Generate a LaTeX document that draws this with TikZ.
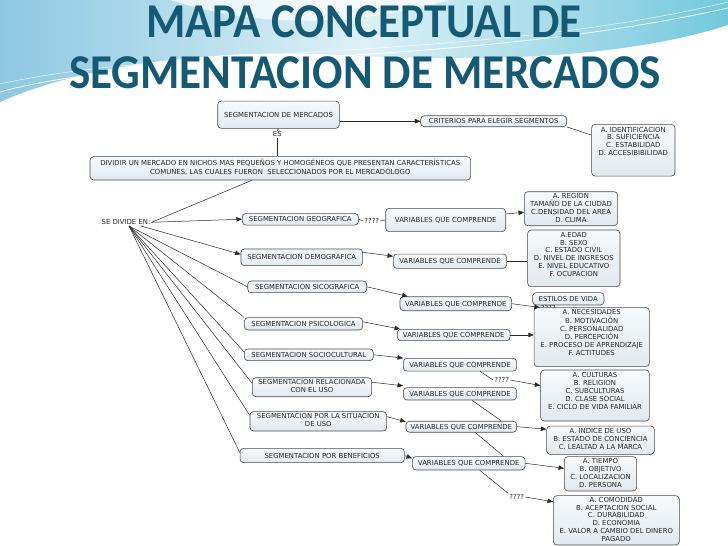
\documentclass[tikz,border=0pt]{standalone}
\usepackage{fontspec}
\setmainfont{DejaVu Sans}
\newfontfamily\titlefont{Carlito}
\usetikzlibrary{arrows.meta,calc}
\definecolor{titleblue}{RGB}{20,90,116}
\definecolor{boxline}{RGB}{75,75,75}
\definecolor{boxtop}{RGB}{247,250,252}
\definecolor{boxbot}{RGB}{226,233,238}
\definecolor{ink}{RGB}{40,40,40}
\definecolor{waveA}{RGB}{140,200,226}
\definecolor{waveB}{RGB}{222,241,247}
\definecolor{waveC}{RGB}{115,200,220}
\newcommand{\mlines}[1]{\begin{tabular}{@{}c@{}}#1\end{tabular}}
\newcommand{\padup}[2]{\raisebox{0pt}[\height][\dimexpr\depth+#1\relax]{#2}}
\begin{document}
\begin{tikzpicture}[x=1pt,y=-1pt,
  font=\fontsize{6.9}{7.8}\selectfont,
  cbox/.style={draw=boxline, line width=0.6pt, rounded corners=3.5pt,
     top color=boxtop, bottom color=boxbot, inner sep=0pt, text=ink},
  cboxs/.style={cbox, text height=5pt, text depth=0pt},
  lp/.style={inner sep=1pt, text=ink, text height=5pt, text depth=0pt},
  con/.style={draw=ink, line width=0.5pt},
  arr/.style={con, -{Triangle[length=5.5pt,width=4.5pt]}},
  ttl/.style={font=\titlefont\bfseries\fontsize{45}{50}\selectfont, text=titleblue, anchor=base, inner sep=0pt}]
\useasboundingbox (0,0) rectangle (728,546);
\fill[white] (0,0) rectangle (728,546);
% background waves
\shade[left color=waveA, right color=waveC, middle color=waveB]
  (0,0) -- (728,0) -- (728,25) .. controls (620,60) and (470,62) .. (340,55)
  .. controls (210,48) and (80,66) .. (0,102) -- cycle;
\fill[white, opacity=0.7] (170,0) .. controls (250,25) and (340,30) .. (450,0) -- cycle;
\draw[white, line width=0.8pt, opacity=0.9] (0,92) .. controls (150,50) and (450,70) .. (728,8);
\draw[white, line width=0.5pt, opacity=0.8] (0,84) .. controls (180,44) and (480,62) .. (728,2);
% title
\node[ttl] (t1) at (364,37.5) {\scalebox{1}[1.08]{MAPA CONCEPTUAL DE}};
\node[ttl] (t2) at (365,88) {\scalebox{1}[1.08]{SEGMENTACION DE MERCADOS}};
% concepts
\node[cboxs, minimum width=121.6, minimum height=27.3] (segm) at (278.5,114.7) {SEGMENTACION DE MERCADOS};
\node[lp] (es) at (277.3,134.3) {ES};
\node[cbox, minimum width=380.7, minimum height=23.3] (big) at (280.3,168.3)
  {\mlines{DIVIDIR UN MERCADO EN NICHOS MAS PEQUEÑOS Y HOMOGÉNEOS QUE PRESENTAN CARACTERÍSTICAS\\COMUNES, LAS CUALES FUERON\ \ SELECCIONADOS POR EL MERCADÓLOGO}};
\node[cboxs, minimum width=146, minimum height=11] (crit) at (493.7,121.2) {CRITERIOS PARA ELEGIR SEGMENTOS};
\node[cbox, minimum width=83.3, minimum height=51.7] (ident) at (633.3,150.2)
  {\padup{16pt}{\mlines{A. IDENTIFICACION\\B. SUFICIENCIA\\C. ESTABILIDAD\\D. ACCESIBIBILIDAD}}};
\node[lp] (sed) at (126,222.3) {SE DIVIDE EN:};
\node[cboxs, minimum width=116, minimum height=11.7] (geo) at (300.3,219.2) {SEGMENTACION GEOGRAFICA};
\node[lp] (q1) at (371.8,221) {????};
\node[cboxs, minimum width=120, minimum height=23.3] (vgeo) at (445.7,220) {VARIABLES QUE COMPRENDE};
\node[cbox, minimum width=93.3, minimum height=34] (reg) at (571,208.7)
  {\mlines{A. REGION\\TAMAÑO DE LA CIUDAD\\C.DENSIDAD DEL AREA\\D. CLIMA}};
\node[cboxs, minimum width=121.7, minimum height=16.7] (demo) at (301.8,257.3) {SEGMENTACION DEMOGRAFICA};
\node[cboxs, minimum width=113.3, minimum height=14.3] (vdemo) at (450,261.2) {VARIABLES QUE COMPRENDE};
\node[cbox, minimum width=92.3, minimum height=56.7] (edad) at (573.8,258.3)
  {\padup{6pt}{\mlines{A.EDAD\\B. SEXO\\C. ESTADO CIVIL\\D. NIVEL DE INGRESOS\\E. NIVEL EDUCATIVO\\F. OCUPACION}}};
\node[cboxs, minimum width=119, minimum height=11.7] (sico) at (307.2,286.8) {SEGMENTACION SICOGRAFICA};
\node[cboxs, minimum width=111.7, minimum height=14] (vsico) at (455.8,303.7) {VARIABLES QUE COMPRENDE};
\node[cboxs, minimum width=71.3, minimum height=12.3] (estilos) at (568.3,298.8) {ESTILOS DE VIDA};
\node[lp] (q2) at (548.3,307.5) {????};
\node[cbox, minimum width=115.3, minimum height=59.3] (nec) at (591.7,337)
  {\padup{7pt}{\mlines{A. NECESIDADES\\B. MOTIVACIÓN\\C. PERSONALIDAD\\D. PERCEPCIÓN\\E. PROCESO DE APRENDIZAJE\\F. ACTITUDES}}};
\node[cboxs, minimum width=118.3, minimum height=12.3] (psico) at (303.5,323.8) {SEGMENTACION PSICOLOGICA};
\node[cboxs, minimum width=112.7, minimum height=11.3] (vpsico) at (453.7,335) {VARIABLES QUE COMPRENDE};
\node[cboxs, minimum width=129, minimum height=11.7] (socio) at (308.8,354.8) {SEGMENTACION SOCIOCULTURAL};
\node[cboxs, minimum width=113.3, minimum height=12.7] (vsocio) at (460,364.7) {VARIABLES QUE COMPRENDE};
\node[lp] (q3) at (501.7,380) {????};
\node[cbox, minimum width=108.7, minimum height=51] (cult) at (595,395.5)
  {\padup{7pt}{\mlines{A. CULTURAS\\B. RELIGION\\C. SUBCULTURAS\\D. CLASE SOCIAL\\E. CICLO DE VIDA FAMILIAR}}};
\node[cbox, minimum width=119.3, minimum height=19] (rel) at (312,387.2)
  {\mlines{SEGMENTACION RELACIONADA\\CON EL USO}};
\node[cboxs, minimum width=113.3, minimum height=12.3] (vrel) at (460,393.8) {VARIABLES QUE COMPRENDE};
\node[cbox, minimum width=136.7, minimum height=19.3] (sit) at (318.3,421.3)
  {\mlines{SEGMENTACION POR LA SITUACION\\DE USO}};
\node[cboxs, minimum width=110.7, minimum height=11] (vsit) at (461.3,426.7) {VARIABLES QUE COMPRENDE};
\node[cbox, minimum width=107.7, minimum height=28.3] (ind) at (600.5,440.2)
  {\mlines{A. INDICE DE USO\\B. ESTADO DE CONCIENCIA\\C. LEALTAD A LA MARCA}};
\node[cboxs, minimum width=164.3, minimum height=14.3] (ben) at (322.2,455.5) {SEGMENTACION POR BENEFICIOS};
\node[cboxs, minimum width=112.7, minimum height=13.3] (vben) at (468.7,463.3) {VARIABLES QUE COMPRENDE};
\node[cbox, minimum width=72.3, minimum height=34.3] (tiempo) at (600.5,473.8)
  {\mlines{A. TIEMPO\\B. OBJETIVO\\C. LOCALIZACION\\D. PERSONA}};
\node[lp] (q4) at (516.7,497) {????};
\node[cbox, minimum width=126, minimum height=49.3] (comod) at (616.3,520.3)
  {\mlines{A. COMODIDAD\\B. ACEPTACION SOCIAL\\C. DURABILIDAD\\D. ECONOMIA\\E. VALOR A CAMBIO DEL DINERO\\PAGADO}};
% connectors
\draw[con] (segm.south) -- (es.north);
\draw[con] (es.south) -- (es.south |- big.north);
\draw[arr] (segm.east |- crit.west) -- (crit.west);
\draw[con] (crit.south east) -- ([yshift=-11pt]ident.north west);
\draw[con] (sed.east) -- ([xshift=-28.3pt]big.south);
\draw[arr] (sed.east) -- (geo.west);
\draw[arr] ([xshift=15pt]sed.south) -- ([yshift=3pt]demo.west);
\draw[con] ([xshift=3pt]sed.south) -- (sico.west);
\draw[con] ([xshift=3pt]sed.south) -- (psico.north west);
\draw[con] ([xshift=3pt]sed.south) -- ([yshift=3pt]socio.west);
\draw[con] ([xshift=3pt]sed.south) -- ([yshift=4pt]rel.west);
\draw[con] ([xshift=3pt]sed.south) -- ([yshift=6pt]sit.west);
\draw[con] ([xshift=3pt]sed.south) -- ([yshift=3pt]ben.west);
\draw[con] (geo.east) -- (q1.west);
\draw[con] (q1.east) -- (vgeo.west);
\draw[arr] ([yshift=6pt]vgeo.east) -- ([yshift=-3.6pt]reg.west);
\draw[arr] ([yshift=5pt]demo.east) -- ([yshift=5pt]vdemo.west);
\draw[con] (vdemo.east) -- (vdemo.east -| edad.west);
\draw[arr] (sico.east) -- ([xshift=8pt]vsico.north west);
\draw[arr] (vsico.east) -- (q2.west);
\draw[arr] ([yshift=2pt]psico.east) -- ([xshift=3pt]vpsico.north west);
\draw[arr] (vpsico.east) -- (vpsico.east -| nec.west);
\draw[arr] (socio.east) -- (vsocio.north west);
\draw[con] ([xshift=20pt]vsocio.south) -- (q3.west);
\draw[arr] (q3.east) -- ([yshift=10pt]cult.west);
\draw[arr] ([yshift=5pt]rel.east) -- ([yshift=8pt]vrel.west);
\draw[con] ([xshift=12pt]vrel.south) -- ([xshift=40pt]vsit.north);
\draw[arr] ([yshift=4.6pt]sit.east) -- ([yshift=5pt]vsit.west);
\draw[arr] (vsit.east) -- ([yshift=11pt]ind.west);
\draw[con] ([xshift=14pt]vsit.south) -- ([xshift=35pt]vben.north);
\draw[arr] (ben.east) -- ([yshift=5pt]vben.west);
\draw[arr] (vben.east) -- ([yshift=5.5pt]tiempo.west);
\draw[con] ([xshift=11pt]vben.south) -- (q4.north west);
\draw[arr] (q4.east) -- ([yshift=18.6pt]comod.west);
\end{tikzpicture}
\end{document}
